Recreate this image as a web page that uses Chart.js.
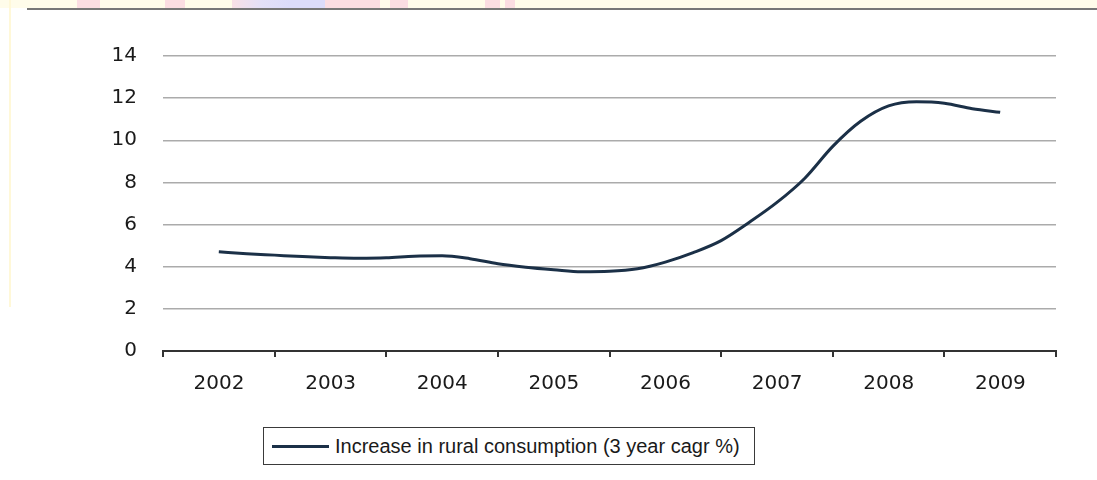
<!DOCTYPE html>
<html>
<head>
<meta charset="utf-8">
<script src="https://cdn.jsdelivr.net/npm/chart.js@4"></script>
<style>
  html, body { margin: 0; padding: 0; background: #ffffff; }
  #wrap { position: relative; width: 1097px; height: 480px; overflow: hidden; }
  #band {
    position: absolute; left: 0; top: 0; width: 1097px; height: 8px;
    background: linear-gradient(to right,
      #fffcea 0px, #fffcea 77px, #fbdde2 77px, #fbdde2 100px,
      #fffcea 100px, #fffcea 165px, #fbdde2 165px, #fbdde2 185px,
      #fffcea 185px, #fffcea 232px, #f9e0e6 232px, #e3e0f8 262px,
      #dcdcfa 290px, #dcdcfa 325px, #fbdde2 325px, #fbdde2 380px,
      #fffcea 380px, #fffcea 390px, #fbdde2 390px, #fbdde2 408px,
      #fffcea 408px, #fffcea 485px, #fbdde2 485px, #fbdde2 500px,
      #fffcea 500px, #fffcea 505px, #fbdde2 505px, #fbdde2 515px,
      #fffcea 515px);
  }
  #rule { position: absolute; left: 27px; top: 8px; width: 1070px; height: 2px; background: #777777; }
  #edge { position: absolute; left: 9px; top: 0; width: 2px; height: 307px; background: #fff8d8; }
  #chartBox { position: absolute; left: 0; top: 0; width: 1097px; height: 480px; }
  #legend {
    position: absolute; left: 263px; top: 427px; width: 490px; height: 36px;
    border: 1.5px solid #3a3a3a; background: #ffffff;
    font-family: "Liberation Sans", Arial, sans-serif; font-size: 20px; color: #1a1a1a;
    display: flex; align-items: center; box-sizing: content-box;
  }
  #legend .swatch { width: 57px; height: 3px; background: #1b3047; margin-left: 8px; margin-right: 6px; }
</style>
</head>
<body>
<div id="wrap">
  <div id="band"></div>
  <div id="rule"></div>
  <div id="edge"></div>
  <div id="chartBox"><canvas id="ruralChart"></canvas></div>
  <div id="legend"><span class="swatch"></span><span id="legendText"></span></div>
</div>
<script>
// Data
const years = ["2002", "2003", "2004", "2005", "2006", "2007", "2008", "2009"];
const quarters = [
  2002, 2002.25, 2002.5, 2002.75,
  2003, 2003.25, 2003.5, 2003.75,
  2004, 2004.25, 2004.5, 2004.75,
  2005, 2005.25, 2005.5, 2005.75,
  2006, 2006.25, 2006.5, 2006.75,
  2007, 2007.25, 2007.5, 2007.75,
  2008, 2008.25, 2008.5, 2008.75,
  2009,
];
const growth = [
  4.71, 4.62, 4.55, 4.48,
  4.43, 4.4, 4.42, 4.5,
  4.52, 4.38, 4.14, 3.98,
  3.86, 3.76, 3.78, 3.9,
  4.22, 4.67, 5.24, 6.1,
  7.05, 8.2, 9.71, 10.9,
  11.63, 11.83, 11.76, 11.5,
  11.33,
];
const yTicks = [0, 2, 4, 6, 8, 10, 12, 14];
const seriesName = "Increase in rural consumption (3 year cagr %)";

document.getElementById("legendText").textContent = seriesName;

const points = quarters.map((q, i) => ({ x: q, y: growth[i] }));

const ctx = document.getElementById("ruralChart").getContext("2d");
window.ruralChart = new Chart(ctx, {
  type: "line",
  data: {
    datasets: [
      {
        label: seriesName,
        data: points,
        borderColor: "#1b3047",
        borderWidth: 3,
        pointRadius: 0,
        fill: false,
        cubicInterpolationMode: "monotone",
      },
    ],
  },
  options: {
    responsive: true,
    maintainAspectRatio: false,
    animation: false,
    layout: {
      padding: { left: 0, right: 41, top: 56, bottom: 0 },
    },
    scales: {
      x: {
        type: "linear",
        min: 2001.5,
        max: 2009.5,
        afterFit: function (scale) {
          scale.height = 129;
        },
        grid: {
          drawOnChartArea: false,
          drawTicks: true,
          tickLength: 6,
          color: "#333333",
          lineWidth: 2,
        },
        border: {
          display: true,
          color: "#333333",
          width: 2,
        },
        ticks: {
          stepSize: 1,
          autoSkip: false,
          maxRotation: 0,
          labelOffset: 56,
          padding: 15,
          color: "#1a1a1a",
          font: { family: "'DejaVu Sans', sans-serif", size: 20 },
          callback: function (value, index) {
            return years[index] || "";
          },
        },
      },
      y: {
        min: 0,
        max: 14,
        afterFit: function (scale) {
          scale.width = 163;
        },
        afterBuildTicks: function (scale) {
          scale.ticks = yTicks.map((v) => ({ value: v }));
        },
        grid: {
          color: "#ababab",
          lineWidth: 1.5,
          drawTicks: false,
        },
        border: {
          display: false,
        },
        ticks: {
          padding: 26,
          color: "#1a1a1a",
          font: { family: "'DejaVu Sans', sans-serif", size: 20 },
        },
      },
    },
    plugins: {
      legend: { display: false },
      tooltip: { enabled: false },
    },
  },
});
</script>
</body>
</html>
